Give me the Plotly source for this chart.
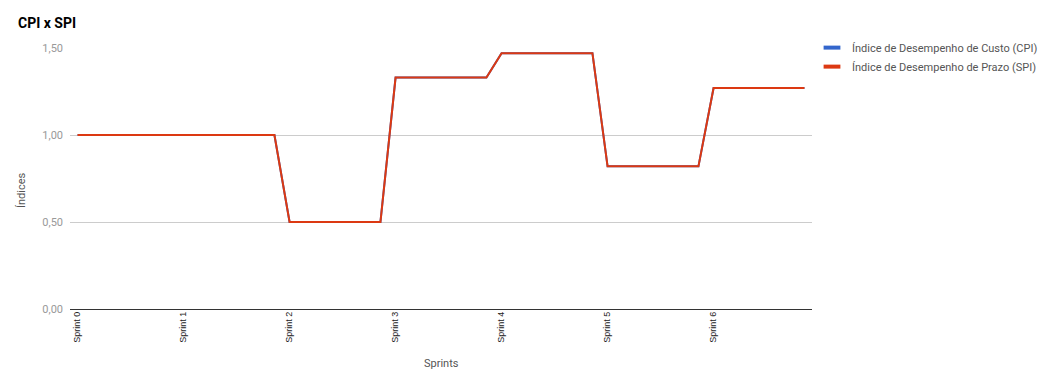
import plotly.graph_objects as go

# Day index along the x axis (7 days per sprint)
days = list(range(49))
sprint_ticks = [0, 7, 14, 21, 28, 35, 42]
sprint_labels = ["Sprint 0", "Sprint 1", "Sprint 2", "Sprint 3", "Sprint 4", "Sprint 5", "Sprint 6"]

cpi = [1.00, 1.00, 1.00, 1.00, 1.00, 1.00, 1.00,
       1.00, 1.00, 1.00, 1.00, 1.00, 1.00, 1.00,
       0.50, 0.50, 0.50, 0.50, 0.50, 0.50, 0.50,
       1.33, 1.33, 1.33, 1.33, 1.33, 1.33, 1.33,
       1.47, 1.47, 1.47, 1.47, 1.47, 1.47, 1.47,
       0.82, 0.82, 0.82, 0.82, 0.82, 0.82, 0.82,
       1.27, 1.27, 1.27, 1.27, 1.27, 1.27, 1.27]
spi = [1.00, 1.00, 1.00, 1.00, 1.00, 1.00, 1.00,
       1.00, 1.00, 1.00, 1.00, 1.00, 1.00, 1.00,
       0.50, 0.50, 0.50, 0.50, 0.50, 0.50, 0.50,
       1.33, 1.33, 1.33, 1.33, 1.33, 1.33, 1.33,
       1.47, 1.47, 1.47, 1.47, 1.47, 1.47, 1.47,
       0.82, 0.82, 0.82, 0.82, 0.82, 0.82, 0.82,
       1.27, 1.27, 1.27, 1.27, 1.27, 1.27, 1.27]

series_names = ["Índice de Desempenho de Custo (CPI)", "Índice de Desempenho de Prazo (SPI)"]
series_colors = ["#3366cc", "#dc3912"]

y_ticks = [0, 0.5, 1.0, 1.5]

font = "Roboto, Arial, sans-serif"
# the page body adds an 8px offset, so the figure is 8px smaller
W, H = 1042, 374
ML, MR, MT, MB = 62, 238, 40, 73

fig = go.Figure()
for vals, name, color in zip([cpi, spi], series_names, series_colors):
    fig.add_trace(go.Scatter(x=days, y=vals, mode="lines", name=name,
                             line=dict(color=color, width=2), showlegend=False))
# legend entries drawn as short thick dashes, like the original
for name, color in zip(series_names, series_colors):
    fig.add_trace(go.Scatter(x=[None], y=[None], mode="markers", name=name,
                             marker=dict(symbol="line-ew", size=12,
                                         line=dict(color=color, width=4))))

fig.update_layout(
    width=W, height=H,
    paper_bgcolor="white", plot_bgcolor="white",
    margin=dict(l=ML, r=MR, t=MT, b=MB, autoexpand=False),
    separators=",.",
    font=dict(family=font, size=11, color="#444"),
    title=dict(text="<b>CPI x SPI</b>", x=0, xref="container", xanchor="left",
               y=1, yref="container", yanchor="top", pad=dict(l=10, t=10),
               font=dict(family=font, size=14, color="#000")),
    showlegend=True,
    legend=dict(x=1.0, xref="paper", xanchor="left", y=1.057, yanchor="top",
                font=dict(family=font, size=11, color="#555"),
                itemwidth=30, bgcolor="rgba(0,0,0,0)"),
    xaxis=dict(range=[-0.5, 48.5], tickvals=sprint_ticks, ticktext=sprint_labels,
               tickangle=-90, showgrid=False, zeroline=False, showline=False,
               ticks="", automargin=False,
               tickfont=dict(family="Liberation Sans Narrow, Arial Narrow, Arial, sans-serif",
                             size=9, color="#222")),
    yaxis=dict(range=[0, 1.5], tickvals=y_ticks, tickformat=".2f",
               showgrid=True, gridcolor="#cccccc", gridwidth=1,
               zeroline=True, zerolinecolor="#333333", zerolinewidth=1,
               showline=False, ticks="", ticklabelstandoff=6, automargin=False,
               tickfont=dict(family=font, size=11, color="#999")),
    annotations=[
        dict(text="Sprints", xref="paper", yref="paper", x=0.5,
             y=-(355 - (H - MB)) / (H - MT - MB),
             xanchor="center", yanchor="middle", showarrow=False,
             font=dict(family=font, size=11, color="#555")),
        dict(text="Índices", xref="paper", yref="paper",
             x=-(ML - 14) / (W - ML - MR), y=((H - MB) - 182) / (H - MT - MB),
             xanchor="center", yanchor="middle", textangle=-90, showarrow=False,
             font=dict(family=font, size=11, color="#555")),
    ],
)

fig.write_html("out.html")
